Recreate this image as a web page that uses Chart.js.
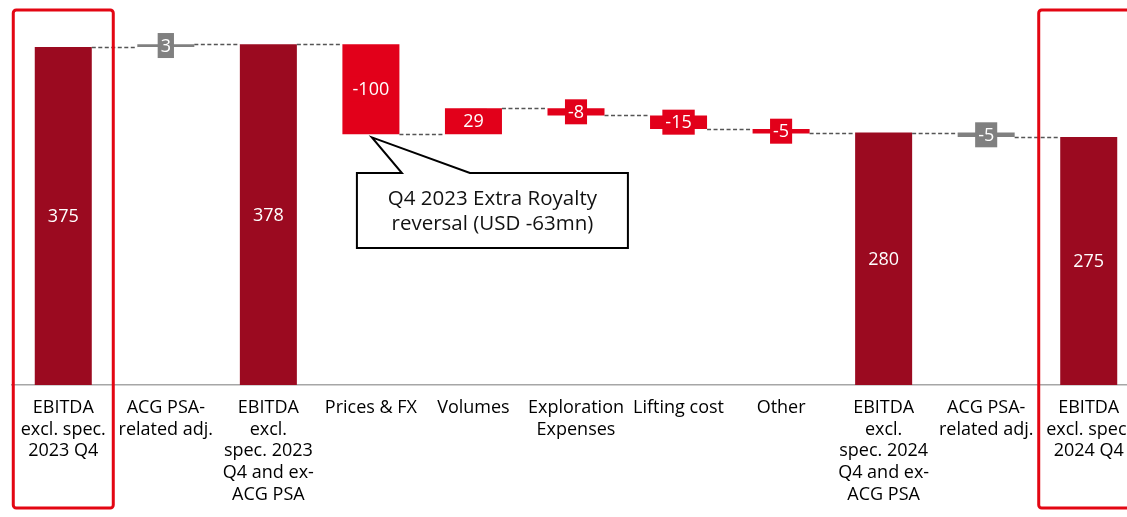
<!DOCTYPE html>
<html>
<head>
<meta charset="utf-8">
<script src="https://cdn.jsdelivr.net/npm/chart.js@4.4.1/dist/chart.umd.min.js"></script>
<style>
  html, body { margin: 0; padding: 0; background: #fff; overflow: hidden; }
  #wrap { position: relative; width: 1140px; height: 517px; }
</style>
</head>
<body>
<div id="wrap"><canvas id="c" width="1140" height="517"></canvas></div>
<script>
// EBITDA bridge, USD mn
const categories = [
  ["EBITDA", "excl. spec.", "2023 Q4"],
  ["ACG PSA-", "related adj."],
  ["EBITDA", "excl.", "spec. 2023", "Q4 and ex-", "ACG PSA"],
  ["Prices & FX"],
  ["Volumes"],
  ["Exploration", "Expenses"],
  ["Lifting cost"],
  ["Other"],
  ["EBITDA", "excl.", "spec. 2024", "Q4 and ex-", "ACG PSA"],
  ["ACG PSA-", "related adj."],
  ["EBITDA", "excl. spec.", "2024 Q4"]
];
const totals  = [375, null, 378, null, null, null, null, null, 280, null, 275];
const changes = [null, 3, null, -100, 29, -8, -15, -5, null, -5, null];
const framedColumns = [0, 10];
const calloutColumn = 3;
const calloutText = ["Q4 2023 Extra Royalty", "reversal (USD -63mn)"];

const TOTAL_COLOR = '#9B0A20';
const CHANGE_COLOR = '#E2001A';
const ADJ_COLOR = '#808080';
const FONT = '"Open Sans", Lato, sans-serif';

// floating ranges from the running level
let level = 0;
const ranges = [], ends = [], colors = [];
categories.forEach((lab, i) => {
  if (totals[i] !== null) {
    ranges.push([0, totals[i]]);
    level = totals[i];
    colors.push(TOTAL_COLOR);
  } else {
    ranges.push([level, level + changes[i]]);
    level += changes[i];
    colors.push(lab[0].startsWith('ACG PSA') ? ADJ_COLOR : CHANGE_COLOR);
  }
  ends.push(level);
});

const bridgePlugin = {
  id: 'bridge',
  afterDatasetsDraw(chart) {
    const ctx = chart.ctx;
    const meta = chart.getDatasetMeta(0);
    const ys = chart.scales.y;
    ctx.save();

    // dashed connectors between neighbouring bars
    ctx.strokeStyle = '#555';
    ctx.lineWidth = 1.4;
    ctx.setLineDash([4, 2.5]);
    for (let i = 0; i < meta.data.length - 1; i++) {
      const a = meta.data[i], b = meta.data[i + 1];
      const y = Math.round(ys.getPixelForValue(ends[i])) + 0.5;
      ctx.beginPath();
      ctx.moveTo(a.x + a.width / 2, y);
      ctx.lineTo(b.x - b.width / 2, y);
      ctx.stroke();
    }
    ctx.setLineDash([]);

    // value labels
    ctx.font = '18px ' + FONT;
    ctx.textAlign = 'center';
    ctx.textBaseline = 'middle';
    meta.data.forEach((bar, i) => {
      const [lo, hi] = ranges[i];
      const yc = ys.getPixelForValue((lo + hi) / 2);
      const txt = totals[i] !== null ? String(totals[i]) : String(changes[i]);
      if (totals[i] === null) {
        const w = ctx.measureText(txt).width + 6;
        ctx.fillStyle = colors[i];
        ctx.fillRect(bar.x - w / 2, yc - 12.5, w, 25);
      }
      ctx.fillStyle = '#fff';
      ctx.fillText(txt, bar.x, yc + 1);
    });

    // callout on the price bar
    const pb = meta.data[calloutColumn];
    const tipX = pb.x + 1, tipY = ys.getPixelForValue(ranges[calloutColumn][1]) + 3;
    const left = pb.x - 14, right = pb.x + 257, top = 173, bottom = 248;
    ctx.beginPath();
    ctx.moveTo(left, top);
    ctx.lineTo(pb.x + 31, top);
    ctx.lineTo(tipX, tipY);
    ctx.lineTo(pb.x + 99, top);
    ctx.lineTo(right, top);
    ctx.lineTo(right, bottom);
    ctx.lineTo(left, bottom);
    ctx.closePath();
    ctx.fillStyle = '#fff';
    ctx.fill();
    ctx.strokeStyle = '#000';
    ctx.lineWidth = 2;
    ctx.lineJoin = 'miter';
    ctx.stroke();
    ctx.fillStyle = '#111';
    ctx.font = '20.5px ' + FONT;
    ctx.textBaseline = 'alphabetic';
    calloutText.forEach((t, k) => ctx.fillText(t, (left + right) / 2, 205 + k * 25));
    ctx.restore();
  },
  afterDraw(chart) {
    const ctx = chart.ctx;
    const meta = chart.getDatasetMeta(0);
    ctx.save();
    ctx.strokeStyle = '#E30613';
    ctx.lineWidth = 3;
    framedColumns.forEach(i => {
      const cx = meta.data[i].x;
      ctx.beginPath();
      ctx.roundRect(cx - 50, 10, 100, 498, 3);
      ctx.stroke();
    });
    ctx.restore();
  }
};

new Chart(document.getElementById('c'), {
  type: 'bar',
  data: {
    labels: categories,
    datasets: [{
      data: ranges,
      backgroundColor: colors,
      borderWidth: 0,
      barPercentage: 0.556,
      categoryPercentage: 1
    }]
  },
  options: {
    responsive: false,
    animation: false,
    layout: { padding: { left: 12, right: 0, top: 0, bottom: 0 } },
    plugins: { legend: { display: false }, tooltip: { enabled: false } },
    scales: {
      x: {
        grid: { display: false, drawTicks: false },
        border: { display: true, color: '#a6a6a6', width: 1.5 },
        ticks: {
          color: '#000',
          font: { family: FONT, size: 18, lineHeight: 1.205 },
          padding: 12,
          maxRotation: 0,
          autoSkip: false
        },
        afterFit(s) {
          s.height = 132;
          s.paddingLeft = 0;
          s.paddingRight = 0;
        }
      },
      y: { display: false, min: 0, max: 427 }
    }
  },
  plugins: [bridgePlugin]
});
</script>
</body>
</html>
